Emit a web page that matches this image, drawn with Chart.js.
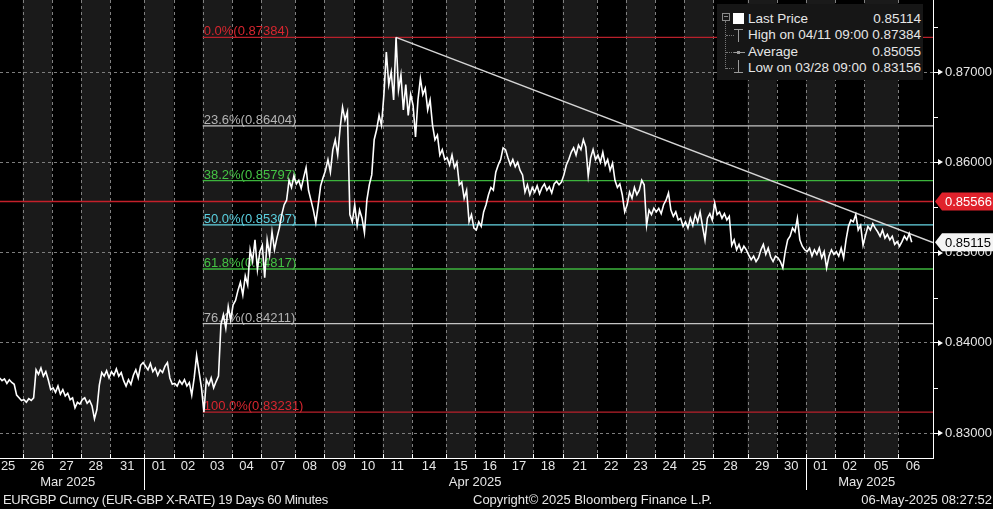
<!DOCTYPE html>
<html>
<head>
<meta charset="utf-8">
<script src="https://cdn.jsdelivr.net/npm/chart.js@4.4.1/dist/chart.umd.min.js"></script>
<style>
  html, body { margin: 0; padding: 0; background: #000; }
  #wrap { position: relative; width: 993px; height: 509px; overflow: hidden;
          font-family: "Liberation Sans", Arial, sans-serif; color: #e6e6e6; }
  #c { position: absolute; left: 0; top: 0; }
  .legend { position: absolute; left: 717px; top: 4px; width: 206px; height: 76px; background: #161616; font-size: 13.5px; }
  .legend .row { position: absolute; left: 31px; right: 2px; height: 16px; line-height: 16px; white-space: nowrap; }
  .legend .row .v { position: absolute; right: 0; top: 0; }
  .legend .ic { position: absolute; }
  .footer { position: absolute; top: 492px; font-size: 13px; white-space: nowrap; color: #e6e6e6; }
</style>
</head>
<body>
<div id="wrap">
  <canvas id="c" width="993" height="509"></canvas>
  <div class="legend" id="legend">
    <div class="ic" style="left:5px;top:9px;width:6px;height:6px;border:1px solid #8a8a8a;"></div>
    <div class="ic" style="left:7px;top:12px;width:4px;height:1px;background:#8a8a8a;"></div>
    <div class="ic" style="left:16px;top:9px;width:11px;height:11px;background:#fff;"></div>
    <div class="ic" style="left:8px;top:17px;height:48px;border-left:1px dotted #777;"></div>
    <div class="ic" style="left:9px;top:31px;width:8px;border-top:1px dotted #777;"></div>
    <div class="ic" style="left:9px;top:48px;width:8px;border-top:1px dotted #777;"></div>
    <div class="ic" style="left:9px;top:64px;width:8px;border-top:1px dotted #777;"></div>
    <div class="ic" style="left:17px;top:25px;width:9px;height:1px;background:#9a9a9a;"></div>
    <div class="ic" style="left:21px;top:25px;width:1px;height:13px;background:#9a9a9a;"></div>
    <div class="ic" style="left:17px;top:48px;width:11px;height:1px;background:#9a9a9a;"></div>
    <div class="ic" style="left:20px;top:47px;width:3px;height:3px;background:#9a9a9a;"></div>
    <div class="ic" style="left:21px;top:56px;width:1px;height:12px;background:#9a9a9a;"></div>
    <div class="ic" style="left:17px;top:68px;width:9px;height:1px;background:#9a9a9a;"></div>
  </div>
  <div class="footer" style="left:3px;letter-spacing:-0.3px;">EURGBP Curncy (EUR-GBP X-RATE) 19 Days 60 Minutes</div>
  <div class="footer" style="left:473px;">Copyright© 2025 Bloomberg Finance L.P.</div>
  <div class="footer" style="right:1px;">06-May-2025 08:27:52</div>
</div>
<script>
// trading sessions shown on the x axis (Monday sessions include the Sunday evening hours)
const dates = [
  '2025-03-25', '2025-03-26', '2025-03-27', '2025-03-28',
  '2025-03-31', '2025-04-01', '2025-04-02', '2025-04-03', '2025-04-04',
  '2025-04-07', '2025-04-08', '2025-04-09', '2025-04-10', '2025-04-11',
  '2025-04-14', '2025-04-15', '2025-04-16', '2025-04-17', '2025-04-18',
  '2025-04-21', '2025-04-22', '2025-04-23', '2025-04-24', '2025-04-25',
  '2025-04-28', '2025-04-29', '2025-04-30', '2025-05-01', '2025-05-02',
  '2025-05-05', '2025-05-06'
];
const monthLabels = ['Mar 2025', 'Apr 2025', 'May 2025'];

// EURGBP, one value every two hours of each session
const week1 = [
  [0.8361, 0.8359, 0.8361, 0.8358, 0.8360, 0.8355, 0.8359, 0.8356, 0.8354, 0.8342, 0.8339, 0.8336],
  [0.8337, 0.8334, 0.8338, 0.8336, 0.8339, 0.8370, 0.8365, 0.8372, 0.8363, 0.8368, 0.8359, 0.8348],
  [0.8350, 0.8345, 0.8352, 0.8343, 0.8348, 0.8341, 0.8344, 0.8337, 0.8339, 0.8328, 0.8334, 0.8332],
  [0.8337, 0.8339, 0.8333, 0.8336, 0.8330, 0.83156, 0.8326, 0.8353, 0.8367, 0.8363, 0.8369, 0.8361]
];
const week2 = [
  [0.8368, 0.8364, 0.8371, 0.8363, 0.8367, 0.8358, 0.8352, 0.8359, 0.8354, 0.8364, 0.8370, 0.8361, 0.8375, 0.8378],
  [0.8374, 0.8370, 0.8377, 0.8368, 0.8372, 0.8364, 0.8370, 0.8367, 0.8374, 0.8378, 0.8361, 0.8354],
  [0.8355, 0.8352, 0.8358, 0.8354, 0.8359, 0.8352, 0.8356, 0.8342, 0.8361, 0.8386, 0.8368, 0.8350],
  [0.83231, 0.8359, 0.8353, 0.8361, 0.8350, 0.8357, 0.8363, 0.8420, 0.8431, 0.8416, 0.8440, 0.8425],
  [0.8442, 0.8447, 0.8458, 0.8467, 0.8453, 0.8474, 0.8464, 0.8503, 0.8490, 0.8514, 0.8481, 0.8501]
];
const week3 = [
  [0.8508, 0.8472, 0.8514, 0.8497, 0.8523, 0.8503, 0.8516, 0.8527, 0.8542, 0.8553, 0.8558, 0.8580, 0.8572, 0.8585],
  [0.8576, 0.8580, 0.8571, 0.8583, 0.8594, 0.8569, 0.8558, 0.8547, 0.8533, 0.8553, 0.8574, 0.8583],
  [0.8591, 0.8603, 0.8589, 0.8614, 0.8625, 0.8608, 0.8638, 0.8661, 0.8647, 0.8656, 0.8542, 0.8534],
  [0.8553, 0.8530, 0.8547, 0.8538, 0.8522, 0.8558, 0.8575, 0.8586, 0.8625, 0.8636, 0.8652, 0.8641],
  [0.8675, 0.8722, 0.8686, 0.8700, 0.8669, 0.87384, 0.8680, 0.8697, 0.8658, 0.8686, 0.8652, 0.8675]
];
const week4 = [
  [0.8663, 0.8628, 0.8669, 0.8693, 0.8675, 0.8682, 0.8658, 0.8669, 0.8641, 0.8625, 0.8630, 0.8608, 0.8614, 0.8603],
  [0.8605, 0.8597, 0.8608, 0.8594, 0.8600, 0.8575, 0.8578, 0.8560, 0.8569, 0.8534, 0.8542, 0.8527],
  [0.8525, 0.8534, 0.8529, 0.8545, 0.8553, 0.8564, 0.8572, 0.8569, 0.8589, 0.8597, 0.8603, 0.8616],
  [0.8614, 0.8605, 0.8597, 0.8603, 0.8595, 0.8600, 0.8591, 0.8586, 0.8567, 0.8575, 0.8564, 0.8572],
  [0.8567, 0.8574, 0.8565, 0.8572, 0.8576, 0.8569, 0.8573, 0.8566, 0.8576, 0.8579, 0.8575, 0.8578]
];
const week5 = [
  [0.8586, 0.8597, 0.8603, 0.8611, 0.8616, 0.8608, 0.8619, 0.8614, 0.8625, 0.8617, 0.8585, 0.8605, 0.8614, 0.8603],
  [0.8608, 0.8600, 0.8611, 0.8597, 0.8603, 0.8591, 0.8599, 0.8580, 0.8572, 0.8576, 0.8564, 0.8545],
  [0.8553, 0.8567, 0.8560, 0.8572, 0.8564, 0.8569, 0.8580, 0.8575, 0.8530, 0.8547, 0.8542, 0.8549],
  [0.8545, 0.8549, 0.8543, 0.8553, 0.8558, 0.8566, 0.8547, 0.8540, 0.8545, 0.8536, 0.8538, 0.8529],
  [0.8534, 0.8527, 0.8538, 0.8530, 0.8542, 0.8534, 0.8545, 0.8529, 0.8514, 0.8538, 0.8543, 0.8536]
];
const week6 = [
  [0.8555, 0.8542, 0.8545, 0.8538, 0.8543, 0.8536, 0.8540, 0.8508, 0.8514, 0.8503, 0.8509, 0.8501, 0.8507, 0.8503],
  [0.8497, 0.8492, 0.8496, 0.8490, 0.8494, 0.8503, 0.8509, 0.8498, 0.8505, 0.8495, 0.8490, 0.8496],
  [0.8494, 0.8490, 0.8483, 0.8501, 0.8514, 0.8518, 0.8527, 0.8523, 0.8538, 0.8514, 0.8507, 0.8503],
  [0.8501, 0.8505, 0.8496, 0.8503, 0.8498, 0.8505, 0.8494, 0.8501, 0.8483, 0.8496, 0.8503, 0.8498],
  [0.8501, 0.8496, 0.8505, 0.8494, 0.8514, 0.8529, 0.8536, 0.8534, 0.8542, 0.8525, 0.8530, 0.8508]
];
const week7 = [
  [0.8519, 0.8529, 0.8525, 0.8532, 0.8527, 0.8523, 0.8518, 0.8525, 0.8516, 0.8520, 0.8514, 0.8518, 0.8509, 0.8512],
  [0.8507, 0.8512, 0.8518, 0.8514, 0.8521, 0.85114]
];

// Fibonacci retracement drawn from the 03 Apr low to the 11 Apr high
const fibStartDate = '2025-04-03';
const fibPct = ['0.0%', '23.6%', '38.2%', '50.0%', '61.8%', '76.4%', '100.0%'];
const fibLevels = [0.87384, 0.86404, 0.85797, 0.85307, 0.84817, 0.84211, 0.83231];
const resistance = 0.85566;
const trendEnd = 0.8511;
const lastTag = 0.85115;
const yTicks = [0.83, 0.84, 0.85, 0.86, 0.87];

const legendLabels = ['Last Price', 'High on 04/11 09:00', 'Average', 'Low on 03/28 09:00'];
const legendValues = ['0.85114', '0.87384', '0.85055', '0.83156'];

// ---------------------------------------------------------------
const FONT = "'Liberation Sans', Arial, sans-serif";
const fibColors = ['#b8202b', '#c4c4c4', '#3cb43c', '#66d6e4', '#3cb43c', '#c4c4c4', '#b8202b'];
const fibTextColors = ['#d8262f', '#b4b4b4', '#44c444', '#5ad0e0', '#44c444', '#b4b4b4', '#d8262f'];

const sessionLen = dates.map(d => new Date(d + 'T00:00:00Z').getUTCDay() === 1 ? 28 : 24);
const sessionStart = [];
let acc = 0;
sessionLen.forEach(len => { sessionStart.push(acc); acc += len; });
const dayCenters = sessionStart.map((s, i) => s + sessionLen[i] / 2);
const dayLabels = dates.map(d => d.slice(8));

const days = [week1, week2, week3, week4, week5, week6, week7].flat();
const pricePoints = [];
days.forEach((vals, di) => vals.forEach((v, k) => pricePoints.push({ x: sessionStart[di] + 1 + 2 * k, y: v })));

const X_MIN = 5.33, X_MAX = 772.5;
const Y_MIN = 0.82723, Y_MAX = 0.87798;

const high = pricePoints.reduce((a, b) => (b.y > a.y ? b : a));
const fibX = sessionStart[dates.indexOf(fibStartDate)];

const datasets = [{
  label: 'Last Price', data: pricePoints, borderColor: '#ffffff', borderWidth: 1.6, order: 0
}, {
  label: 'Trend', data: [{ x: high.x, y: high.y }, { x: X_MAX, y: trendEnd }],
  borderColor: '#d6d6d6', borderWidth: 1.5, order: 1
}, {
  label: 'Resistance', data: [{ x: X_MIN, y: resistance }, { x: X_MAX, y: resistance }],
  borderColor: '#c4202a', borderWidth: 1.6, order: 2
}];
fibLevels.forEach((lvl, i) => datasets.push({
  label: fibPct[i], data: [{ x: fibX, y: lvl }, { x: X_MAX, y: lvl }],
  borderColor: fibColors[i], borderWidth: 1.3, order: 3
}));

const bgPlugin = {
  id: 'bbgBackground',
  beforeDraw(chart) {
    const { ctx, chartArea: a, scales: { x } } = chart;
    ctx.save();
    ctx.fillStyle = '#000';
    ctx.fillRect(0, 0, chart.width, chart.height);
    ctx.beginPath();
    ctx.rect(a.left, a.top, a.width, a.height);
    ctx.clip();
    ctx.fillStyle = '#1a1a1a';
    dates.forEach((d, i) => {
      if (i % 2 === 1) {
        const x0 = x.getPixelForValue(sessionStart[i]);
        const x1 = x.getPixelForValue(sessionStart[i] + sessionLen[i]);
        ctx.fillRect(x0, a.top, x1 - x0, a.height);
      }
    });
    ctx.strokeStyle = '#808080';
    ctx.lineWidth = 1;
    ctx.setLineDash([3, 3]);
    ctx.beginPath();
    for (let i = 1; i < dates.length; i++) {
      const px = Math.round(x.getPixelForValue(sessionStart[i])) + 0.5;
      ctx.moveTo(px, a.top);
      ctx.lineTo(px, a.bottom);
    }
    ctx.stroke();
    ctx.restore();
  },
  beforeDatasetsDraw(chart) {
    const { ctx, scales: { x, y } } = chart;
    ctx.save();
    ctx.font = '13px ' + FONT;
    ctx.textAlign = 'left';
    ctx.textBaseline = 'alphabetic';
    fibLevels.forEach((lvl, i) => {
      ctx.fillStyle = fibTextColors[i];
      ctx.fillText(fibPct[i] + '(' + lvl.toFixed(5) + ')', x.getPixelForValue(fibX) + 1, y.getPixelForValue(lvl) - 2);
    });
    ctx.restore();
  },
  afterDraw(chart) {
    const { ctx, chartArea: a, scales: { x, y } } = chart;
    ctx.save();
    ctx.strokeStyle = '#ffffff';
    ctx.lineWidth = 1;
    // day ticks on the time axis
    ctx.beginPath();
    for (let i = 1; i < dates.length; i++) {
      const px = Math.round(x.getPixelForValue(sessionStart[i])) + 0.5;
      ctx.moveTo(px, a.bottom - 4);
      ctx.lineTo(px, a.bottom);
    }
    ctx.stroke();
    // month separators and labels
    ctx.font = '13px ' + FONT;
    ctx.fillStyle = '#e6e6e6';
    ctx.textAlign = 'center';
    ctx.textBaseline = 'middle';
    const months = [...new Set(dates.map(d => d.slice(0, 7)))];
    months.forEach((m, mi) => {
      const idx = dates.map((d, i) => (d.startsWith(m) ? i : -1)).filter(i => i >= 0);
      const first = idx[0], last = idx[idx.length - 1];
      const cx = (x.getPixelForValue(dayCenters[first]) + x.getPixelForValue(dayCenters[last])) / 2;
      ctx.fillText(monthLabels[mi], cx, a.bottom + 24);
      if (mi > 0) {
        const px = Math.round(x.getPixelForValue(sessionStart[first])) + 0.5;
        ctx.beginPath();
        ctx.moveTo(px, a.bottom);
        ctx.lineTo(px, a.bottom + 32);
        ctx.stroke();
      }
    });
    // y axis pointers and minor ticks
    ctx.fillStyle = '#ffffff';
    yTicks.forEach(v => {
      const py = Math.round(y.getPixelForValue(v));
      ctx.beginPath();
      ctx.moveTo(a.right + 5, py - 3);
      ctx.lineTo(a.right + 10, py);
      ctx.lineTo(a.right + 5, py + 3);
      ctx.closePath();
      ctx.fill();
    });
    ctx.beginPath();
    for (let v = 0.825; v < Y_MAX; v += 0.01) {
      const py = Math.round(y.getPixelForValue(v)) + 0.5;
      if (py < a.top || py > a.bottom) continue;
      ctx.moveTo(a.right, py);
      ctx.lineTo(a.right + 5, py);
    }
    ctx.stroke();
    // price tags
    const tag = (val, bg, fg) => {
      const py = y.getPixelForValue(val);
      ctx.fillStyle = bg;
      ctx.beginPath();
      ctx.moveTo(a.right + 2, py);
      ctx.lineTo(a.right + 9, py - 9);
      ctx.lineTo(chart.width, py - 9);
      ctx.lineTo(chart.width, py + 9);
      ctx.lineTo(a.right + 9, py + 9);
      ctx.closePath();
      ctx.fill();
      ctx.fillStyle = fg;
      ctx.textAlign = 'left';
      ctx.textBaseline = 'middle';
      ctx.fillText(val.toFixed(5), a.right + 12, py + 1);
    };
    tag(resistance, '#e0222c', '#ffffff');
    tag(lastTag, '#f4f4f4', '#000000');
    ctx.restore();
  }
};

new Chart(document.getElementById('c'), {
  type: 'line',
  data: { datasets },
  options: {
    responsive: false,
    animation: false,
    devicePixelRatio: 1,
    layout: { padding: 0 },
    plugins: { legend: { display: false }, tooltip: { enabled: false } },
    elements: { point: { radius: 0 }, line: { tension: 0 } },
    scales: {
      x: {
        type: 'linear', position: 'bottom', bounds: 'data', min: X_MIN, max: X_MAX,
        grid: { display: false, drawTicks: false },
        border: { display: true, color: '#ffffff', width: 1 },
        afterBuildTicks: s => { s.ticks = dayCenters.map(v => ({ value: v })); },
        afterFit: s => { s.height = 51; s.paddingLeft = 0; s.paddingRight = 0; },
        ticks: {
          autoSkip: false, maxRotation: 0, minRotation: 0, padding: 1,
          color: '#e6e6e6', font: { family: FONT, size: 13 },
          callback: (v, i) => dayLabels[i]
        }
      },
      y: {
        type: 'linear', position: 'right', bounds: 'data', min: Y_MIN, max: Y_MAX,
        grid: { color: '#7d7d7d', lineWidth: 1, drawTicks: true, tickLength: 5, tickColor: '#ffffff', tickWidth: 1 },
        border: { display: true, color: '#ffffff', width: 1, dash: [3, 3] },
        afterBuildTicks: s => { s.ticks = yTicks.map(v => ({ value: v })); },
        afterFit: s => { s.width = 60; s.paddingTop = 0; s.paddingBottom = 0; },
        ticks: {
          padding: 7, color: '#e6e6e6', font: { family: FONT, size: 13 },
          callback: v => v.toFixed(5)
        }
      }
    }
  },
  plugins: [bgPlugin]
});

// legend rows
const legendEl = document.getElementById('legend');
legendLabels.forEach((t, i) => {
  const row = document.createElement('div');
  row.className = 'row';
  row.style.top = (7 + i * 16.3) + 'px';
  row.innerHTML = '<span></span><span class="v"></span>';
  row.children[0].textContent = t;
  row.children[1].textContent = legendValues[i];
  legendEl.appendChild(row);
});
</script>
</body>
</html>
